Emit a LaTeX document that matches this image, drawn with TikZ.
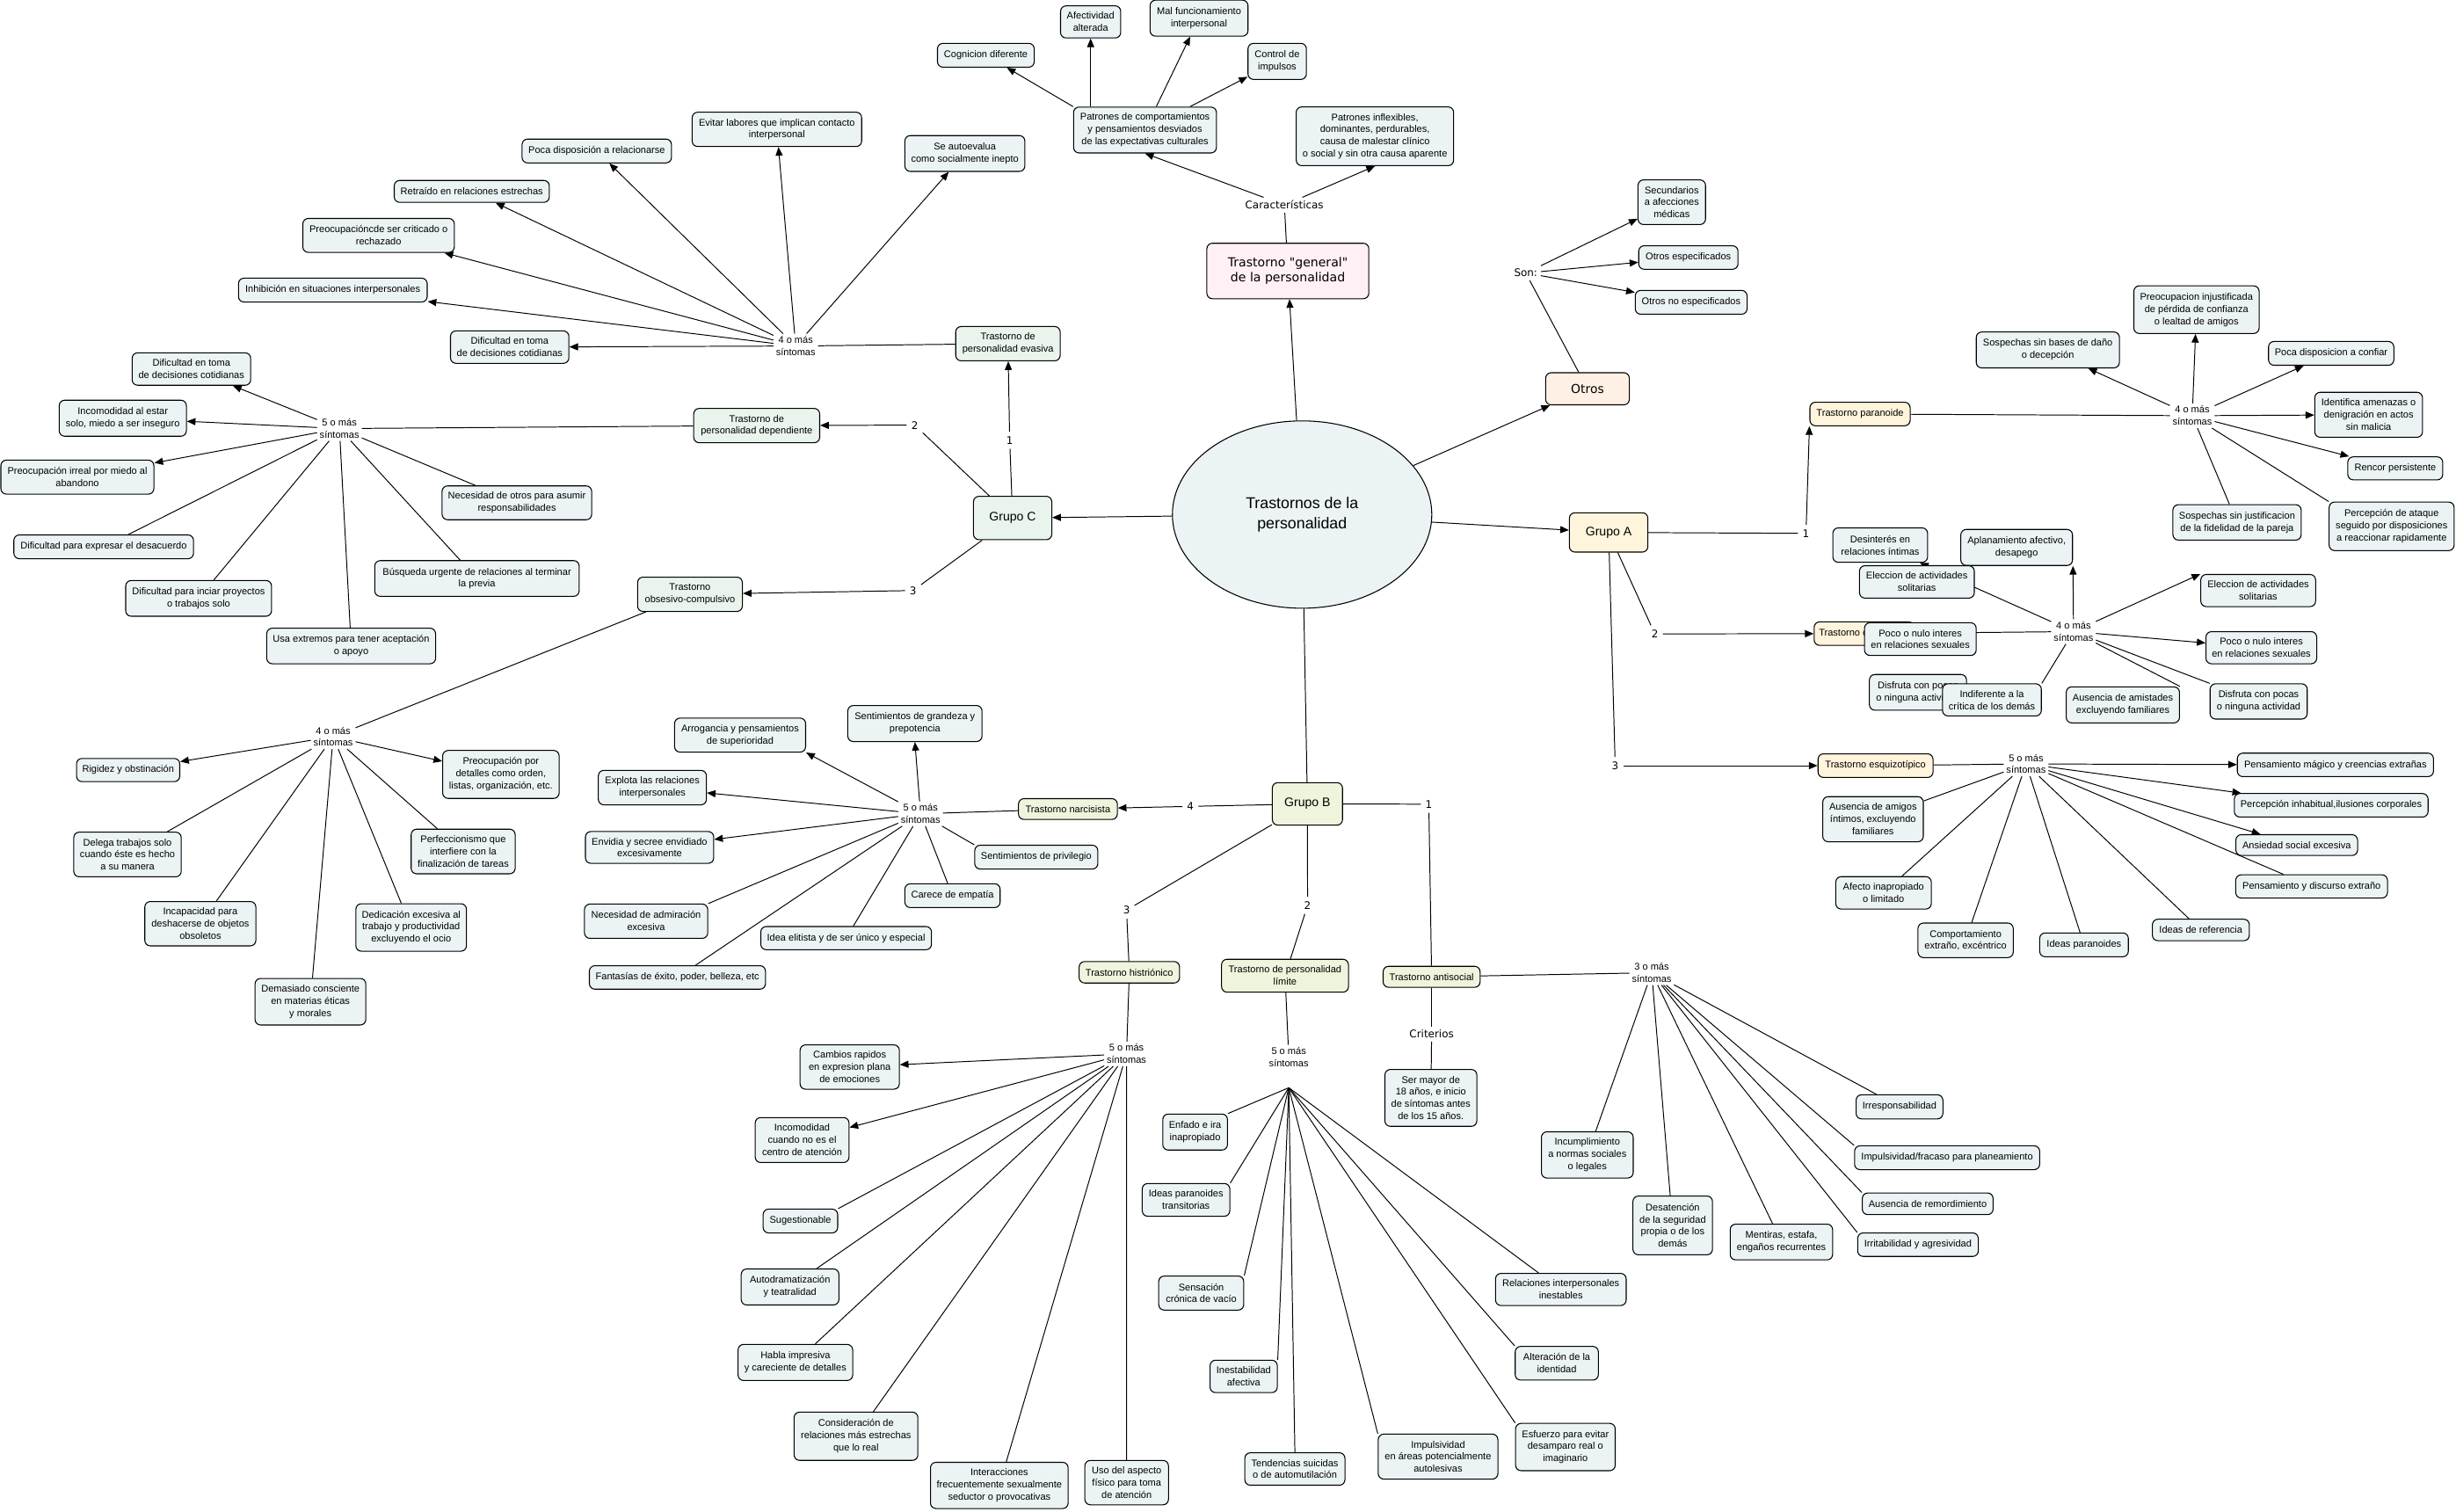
\documentclass[tikz,border=0pt]{standalone}
\usepackage{fontspec}
\setmainfont{Liberation Sans}
\newfontfamily\dvf{DejaVu Sans}
\usetikzlibrary{arrows.meta,shapes.geometric,calc}
\definecolor{symfill}{HTML}{EBF3F5}
\definecolor{cfill}{HTML}{E9F4EC}
\definecolor{bfill}{HTML}{EFF5DC}
\definecolor{afill}{HTML}{FFF4DC}
\definecolor{ofill}{HTML}{FEF0E4}
\definecolor{gfill}{HTML}{FFF0F6}
\pgfdeclarelayer{bg}
\pgfsetlayers{bg,main}
\tikzset{
 bx/.style={draw, line width=0.6pt, rounded corners=3.5pt, fill=symfill, align=center, inner sep=0.5pt, font=\fontsize{6.2}{7.8}\selectfont},
 sz/.style 2 args={minimum width=#1, minimum height=#2},
 grp/.style={bx, font=\fontsize{7.9}{9.5}\selectfont},
 lbl/.style={align=center, inner sep=1.5pt, font=\fontsize{6.2}{7.8}\selectfont},
 num/.style={inner sep=2.8pt, font=\dvf\fontsize{6.7}{8}\selectfont},
 ln/.style={line width=0.55pt},
 arr/.style={ln, -{Triangle[length=5.5pt,width=4.5pt]}},
}
\begin{document}
\begin{tikzpicture}[x=1pt,y=-1pt]
\useasboundingbox (0,0) rectangle (1568,965);
\begin{pgfonlayer}{bg}
\fill[white] (0,0) rectangle (1568,965);
\end{pgfonlayer}
% ---------- central ----------
\node[ellipse, draw, line width=0.6pt, fill=symfill, minimum width=165.6, minimum height=119.6, align=center, font=\fontsize{10}{13}\selectfont] (E) at (831.3,328.5) {Trastornos de la\\personalidad};
\node[bx, fill=gfill, sz={103.4}{35.4}, font=\dvf\fontsize{7.9}{9.5}\selectfont] (gen) at (822.2,173) {Trastorno "general"\\de la personalidad};
\node[bx, fill=ofill, sz={53.4}{20.5}, font=\dvf\fontsize{7.8}{9.5}\selectfont] (otros) at (1013.5,248.2) {Otros};
\node[grp, fill=afill, sz={50.1}{25.1}] (grA) at (1027,339.9) {Grupo A};
\node[grp, fill=bfill, sz={44.8}{27.1}] (grB) at (834.7,513.2) {Grupo B};
\node[grp, fill=cfill, sz={50}{27.7}] (grC) at (646.5,330.7) {Grupo C};
% ---------- caracteristicas ----------
\node[num, inner sep=2pt] (carac) at (820,130.9) {Características};
\node[bx, sz={91.2}{29.3}] (pat) at (731,83) {Patrones de comportamientos\\y pensamientos desviados\\de las expectativas culturales};
\node[bx, sz={100.5}{37.5}] (pinf) at (877.8,87) {Patrones inflexibles,\\dominantes, perdurables,\\causa de malestar clínico\\o social y sin otra causa aparente};
\node[bx, sz={61.8}{15.2}] (cog) at (629.4,35.3) {Cognicion diferente};
\node[bx, sz={38.4}{20.5}] (afe) at (696.3,14) {Afectividad\\alterada};
\node[bx, sz={62.5}{23}] (mal) at (765.5,11.6) {Mal funcionamiento\\interpersonal};
\node[bx, sz={37.3}{23}] (ctrl) at (815.4,39.2) {Control de\\impulsos};
% ---------- otros ----------
\node[num, inner sep=2pt] (son) at (974.1,174.3) {Son:};
\node[bx, sz={43.1}{28.5}] (sec) at (1067.3,129.1) {Secundarios\\a afecciones\\médicas};
\node[bx, sz={63.4}{15}] (oesp) at (1077.9,164.4) {Otros especificados};
\node[bx, sz={71.4}{15.2}] (onesp) at (1079.7,193) {Otros no especificados};
% ---------- grupo C ----------
\node[num] (n1c) at (644.6,281) {1};
\node[num] (n2c) at (584,271.4) {2};
\node[num] (n3c) at (582.9,377) {3};
\node[bx, fill=cfill, sz={66.7}{21.9}] (eva) at (643.5,219.4) {Trastorno de\\personalidad evasiva};
\node[bx, fill=cfill, sz={80.4}{21.9}] (dep) at (483.1,271.7) {Trastorno de\\personalidad dependiente};
\node[bx, fill=cfill, sz={66.9}{21.9}] (obs) at (440.5,379.4) {Trastorno\\obsesivo-compulsivo};
\node[lbl] (leva) at (508,220.9) {4 o más\\síntomas};
\node[lbl] (ldep) at (216.7,273.6) {5 o más\\síntomas};
\node[lbl] (lobs) at (212.7,470.3) {4 o más\\síntomas};
\node[bx, sz={95.4}{15.2}] (ev1) at (381,96.4) {Poca disposición a relacionarse};
\node[bx, sz={108.2}{21.9}] (ev2) at (496,82.6) {Evitar labores que implican contacto\\interpersonal};
\node[bx, sz={76.6}{22.9}] (ev3) at (616,98) {Se autoevalua\\como socialmente inepto};
\node[bx, sz={99}{14}] (ev4) at (301.2,122.2) {Retraído en relaciones estrechas};
\node[bx, sz={96.7}{21.7}] (ev5) at (241.7,150.3) {Preocupacióncde ser criticado o\\rechazado};
\node[bx, sz={120.5}{15.2}] (ev6) at (212.5,185.2) {Inhibición en situaciones interpersonales};
\node[bx, sz={75.6}{20.7}] (ev7) at (325.4,221.6) {Dificultad en toma\\de decisiones cotidianas};
\node[bx, sz={75.7}{20.7}] (dp1) at (122.2,235.6) {Dificultad en toma\\de decisiones cotidianas};
\node[bx, sz={81.2}{23}] (dp2) at (78.4,267) {Incomodidad al estar\\solo, miedo a ser inseguro};
\node[bx, sz={97.7}{21.7}] (dp3) at (49.4,304.6) {Preocupación irreal por miedo al\\abandono};
\node[bx, sz={114.7}{15.2}] (dp4) at (66.2,349.1) {Dificultad para expresar el desacuerdo};
\node[bx, sz={93.1}{22.8}] (dp5) at (126.8,382) {Dificultad para inciar proyectos\\o trabajos solo};
\node[bx, sz={107.8}{22.7}] (dp6) at (224.2,412.4) {Usa extremos para tener aceptación\\o apoyo};
\node[bx, sz={130.5}{22.8}] (dp7) at (304.5,369.3) {Búsqueda urgente de relaciones al terminar\\la previa};
\node[bx, sz={95.5}{21.6}] (dp8) at (330,321) {Necesidad de otros para asumir\\responsabilidades};
\node[bx, sz={65.9}{14.8}] (ob1) at (81.8,491.6) {Rigidez y obstinación};
\node[bx, sz={74.4}{30.6}] (ob2) at (319.8,494.4) {Preocupación por\\detalles como orden,\\listas, organización, etc.};
\node[bx, sz={68.6}{28.5}] (ob3) at (81.4,545.5) {Delega trabajos solo\\cuando éste es hecho\\a su manera};
\node[bx, sz={70.9}{28.3}] (ob4) at (127.9,589.7) {Incapacidad para\\deshacerse de objetos\\obsoletos};
\node[bx, sz={70.7}{29.7}] (ob5) at (198.2,639.5) {Demasiado consciente\\en materias éticas\\y morales};
\node[bx, sz={70.6}{30.3}] (ob6) at (262.5,592.1) {Dedicación excesiva al\\trabajo y productividad\\excluyendo el ocio};
\node[bx, sz={66.4}{28.5}] (ob7) at (295.7,543.6) {Perfeccionismo que\\interfiere con la\\finalización de tareas};
% ---------- grupo B ----------
\node[num] (n1b) at (912.2,513.4) {1};
\node[num] (n2b) at (834.8,578) {2};
\node[num] (n3b) at (719.2,581) {3};
\node[num] (n4b) at (760,514.8) {4};
\node[bx, fill=bfill, sz={63.1}{13.3}] (nar) at (681.8,516.5) {Trastorno narcisista};
\node[bx, fill=bfill, sz={64.1}{13.7}] (his) at (721,620.7) {Trastorno histriónico};
\node[bx, fill=bfill, sz={81}{21}] (lim) at (820.4,622.9) {Trastorno de personalidad\\límite};
\node[bx, fill=bfill, sz={61.9}{13.4}] (ant) at (914,623.6) {Trastorno antisocial};
\node[lbl] (lnar) at (587.7,519.5) {5 o más\\síntomas};
\node[lbl] (lhis) at (719.2,672.8) {5 o más\\síntomas};
\node[lbl] (llim) at (822.8,674.9) {5 o más\\síntomas};
\coordinate (llimc) at (822.8,694.4);
\node[lbl] (lant) at (1054.5,621) {3 o más\\síntomas};
\node[num, inner sep=2pt] (crit) at (914,660.1) {Criterios};
\node[bx, sz={83.7}{21.7}] (na1) at (472.5,469.3) {Arrogancia y pensamientos\\de superioridad};
\node[bx, sz={85.7}{23}] (na2) at (584.1,461.9) {Sentimientos de grandeza y\\prepotencia};
\node[bx, sz={69}{22}] (na3) at (416.5,502.8) {Explota las relaciones\\interpersonales};
\node[bx, sz={81.9}{20.3}] (na4) at (414.7,541) {Envidia y secree envidiado\\excesivamente};
\node[bx, sz={78.7}{21.9}] (na5) at (412.5,588.1) {Necesidad de admiración\\excesiva};
\node[bx, sz={112.4}{15}] (na6) at (432.5,624) {Fantasías de éxito, poder, belleza, etc};
\node[bx, sz={109}{14.8}] (na7) at (540.2,598.9) {Idea elitista y de ser único y especial};
\node[bx, sz={60.8}{15.2}] (na8) at (608.1,571.8) {Carece de empatía};
\node[bx, sz={78.6}{15.2}] (na9) at (661.6,547.2) {Sentimientos de privilegio};
\node[bx, sz={63.4}{28.3}] (hi1) at (542.5,681.2) {Cambios rapidos\\en expresion plana\\de emociones};
\node[bx, sz={59.9}{28.7}] (hi2) at (512.1,727.8) {Incomodidad\\cuando no es el\\centro de atención};
\node[bx, sz={47.6}{15.2}] (hi3) at (511,779.5) {Sugestionable};
\node[bx, sz={62.4}{23}] (hi4) at (504.4,821.6) {Autodramatización\\y teatralidad};
\node[bx, sz={73.2}{23}] (hi5) at (507.8,869.8) {Habla impresiva\\y careciente de detalles};
\node[bx, sz={79}{30.8}] (hi6) at (546.5,916.9) {Consideración de\\relaciones más estrechas\\que lo real};
\node[bx, sz={87.9}{29.5}] (hi7) at (638,948.3) {Interacciones\\frecuentemente sexualmente\\seductor o provocativas};
\node[bx, sz={53.4}{28.3}] (hi8) at (719.3,946.5) {Uso del aspecto\\físico para toma\\de atención};
\node[bx, sz={41.3}{23}] (li1) at (763,722.7) {Enfado e ira\\inapropiado};
\node[bx, sz={55.9}{20.9}] (li2) at (757.2,766) {Ideas paranoides\\transitorias};
\node[bx, sz={54.3}{21.7}] (li3) at (766.9,825.5) {Sensación\\crónica de vacío};
\node[bx, sz={42.9}{20.7}] (li4) at (794,878.7) {Inestabilidad\\afectiva};
\node[bx, sz={63.9}{20.7}] (li5) at (826.7,937.8) {Tendencias suicidas\\o de automutilación};
\node[bx, sz={76.4}{28.7}] (li6) at (918.1,929.9) {Impulsividad\\en áreas potencialmente\\autolesivas};
\node[bx, sz={63.6}{30.2}] (li7) at (999.4,923.8) {Esfuerzo para evitar\\desamparo real o\\imaginario};
\node[bx, sz={53.1}{21.5}] (li8) at (993.9,870.3) {Alteración de la\\identidad};
\node[bx, sz={83.4}{20.5}] (li9) at (996.5,823.2) {Relaciones interpersonales\\inestables};
\node[bx, sz={58.7}{36.3}] (an0) at (913.5,700.9) {Ser mayor de\\18 años, e inicio\\de síntomas antes\\de los 15 años.};
\node[bx, sz={58.6}{29.5}] (an1) at (1013.4,737.3) {Incumplimiento\\a normas sociales\\o legales};
\node[bx, sz={50.8}{37.5}] (an2) at (1067.9,782.3) {Desatención\\de la seguridad\\propia o de los\\demás};
\node[bx, sz={65.4}{22.8}] (an3) at (1137.3,792.9) {Mentiras, estafa,\\engaños recurrentes};
\node[bx, sz={55.4}{15.4}] (an4) at (1212.7,706.6) {Irresponsabilidad};
\node[bx, sz={118.2}{15.2}] (an5) at (1243.1,739.1) {Impulsividad/fracaso para planeamiento};
\node[bx, sz={83.5}{13.8}] (an6) at (1230.7,768.5) {Ausencia de remordimiento};
\node[bx, sz={77}{15}] (an7) at (1224.5,794.6) {Irritabilidad y agresividad};
% ---------- grupo A ----------
\node[num] (n1a) at (1153,340.5) {1};
\node[num] (n2a) at (1056.5,404.7) {2};
\node[num] (n3a) at (1031.2,488.8) {3};
\node[bx, fill=afill, sz={64}{15}] (par) at (1187.5,264.3) {Trastorno paranoide};
\node[bx, fill=afill, sz={73.4}{15.1}] (etp) at (1197.4,488.8) {Trastorno esquizotípico};
\node[lbl] (lpar) at (1399.6,265.4) {4 o más\\síntomas};
\node[lbl] (lesq) at (1323.8,403.2) {4 o más\\síntomas};
\node[lbl] (letp) at (1293.5,487.7) {5 o más\\síntomas};
\node[bx, sz={91.4}{22.9}] (pa1) at (1307.4,223.4) {Sospechas sin bases de daño\\o decepción};
\node[bx, sz={80}{30.4}] (pa2) at (1402.3,197.7) {Preocupacion injustificada\\de pérdida de confianza\\o lealtad de amigos};
\node[bx, sz={80}{15.2}] (pa3) at (1488.3,225.6) {Poca disposicion a confiar};
\node[bx, sz={68.8}{28.7}] (pa4) at (1512.2,264.8) {Identifica amenazas o\\denigración en actos\\sin malicia};
\node[bx, sz={60.6}{14.7}] (pa5) at (1529.2,299) {Rencor persistente};
\node[bx, sz={81.9}{22.6}] (pa6) at (1428.2,333.5) {Sospechas sin justificacion\\de la fidelidad de la pareja};
\node[bx, sz={79.8}{31}] (pa7) at (1526.9,336) {Percepción de ataque\\seguido por disposiciones\\a reaccionar rapidamente};
\node[bx, sz={60.5}{22}] (ez1) at (1200.4,348) {Desinterés en\\relaciones íntimas};
\node[bx, sz={71.3}{23}] (ez2) at (1287.5,349.5) {Aplanamiento afectivo,\\desapego};
\node[bx, sz={73.3}{20.7}] (ez3) at (1223.8,371.5) {Eleccion de actividades\\solitarias};
\node[bx, fill=afill, sz={63.8}{15}] (esq) at (1190.1,404.5) {Trastorno esquizoide};
\node[bx, sz={71.3}{20.9}] (ez4) at (1226,408) {Poco o nulo interes\\en relaciones sexuales};
\node[bx, sz={62}{22.8}] (ez5) at (1224.5,442) {Disfruta con pocas\\o ninguna actividad};
\node[bx, sz={63.1}{20.5}] (ez6) at (1271.7,446.8) {Indiferente a la\\crítica de los demás};
\node[bx, sz={72.3}{23}] (ez7) at (1355.3,450) {Ausencia de amistades\\excluyendo familiares};
\node[bx, sz={73.3}{20.5}] (ez8) at (1441.7,377) {Eleccion de actividades\\solitarias};
\node[bx, sz={70.7}{20.5}] (ez9) at (1443.7,413.5) {Poco o nulo interes\\en relaciones sexuales};
\node[bx, sz={62}{22.5}] (ez10) at (1442,447.8) {Disfruta con pocas\\o ninguna actividad};
\node[bx, sz={125.2}{15}] (et1) at (1491,488.3) {Pensamiento mágico y creencias extrañas};
\node[bx, sz={123.7}{15}] (et2) at (1488.3,514.1) {Percepción inhabitual,ilusiones corporales};
\node[bx, sz={77.7}{13.3}] (et3) at (1466.3,539.5) {Ansiedad social excesiva};
\node[bx, sz={96.9}{14.8}] (et4) at (1475.8,565.9) {Pensamiento y discurso extraño};
\node[bx, sz={61.9}{13.7}] (et5) at (1405.1,593.7) {Ideas de referencia};
\node[bx, sz={56.6}{15.2}] (et6) at (1330.5,603.2) {Ideas paranoides};
\node[bx, sz={60.8}{22.1}] (et7) at (1254.9,600.3) {Comportamiento\\extraño, excéntrico};
\node[bx, sz={61}{20.7}] (et8) at (1202.5,570) {Afecto inapropiado\\o limitado};
\node[bx, sz={64.2}{28.8}] (et9) at (1195.8,523) {Ausencia de amigos\\íntimos, excluyendo\\familiares};
% ---------- connectors ----------
\begin{pgfonlayer}{bg}
\draw[arr] (E) -- (gen);
\draw[arr] (E) -- (otros);
\draw[arr] (E) -- (grA);
\draw[arr] (E) -- (grC);
\draw[ln] (E) -- (grB);
\draw[ln] (gen) -- (carac);
\draw[arr] (carac) -- (pat.south);
\draw[arr] (carac) -- (pinf.south);
\draw[arr] (pat.north west) -- (cog);
\draw[arr] (afe.south |- pat.north) -- (afe.south);
\draw[arr] (pat) -- (mal);
\draw[arr] (pat) -- (ctrl);
\draw[ln] (otros) -- (son);
\draw[arr] (son) -- (sec);
\draw[arr] (son) -- (oesp);
\draw[arr] (son) -- (onesp);
% grupo C
\draw[ln] (grC) -- (n1c);
\draw[arr] (n1c) -- (eva);
\draw[ln] (grC) -- (n2c);
\draw[arr] (n2c) -- (dep);
\draw[ln] (grC) -- (n3c);
\draw[arr] (n3c) -- (obs);
\draw[ln] (eva) -- (leva);
\foreach \t in {ev1,ev2,ev3,ev4,ev5,ev6,ev7} \draw[arr] (leva) -- (\t);
\draw[ln] (dep) -- (ldep);
\foreach \t in {dp1,dp2,dp3} \draw[arr] (ldep) -- (\t);
\foreach \t in {dp4,dp5,dp6,dp7,dp8} \draw[ln] (ldep) -- (\t);
\draw[ln] (obs) -- (lobs);
\foreach \t in {ob1,ob2} \draw[arr] (lobs) -- (\t);
\foreach \t in {ob3,ob4,ob5,ob6,ob7} \draw[ln] (lobs) -- (\t);
% grupo B
\draw[ln] (grB) -- (n1b);
\draw[ln] (n1b) -- (ant);
\draw[ln] (grB) -- (n2b);
\draw[ln] (n2b) -- (lim);
\draw[ln] (grB) -- (n3b);
\draw[ln] (n3b) -- (his);
\draw[ln] (grB) -- (n4b);
\draw[arr] (n4b) -- (nar);
\draw[ln] (nar) -- (lnar);
\draw[arr] (lnar) -- (na1.south east);
\draw[arr] (lnar) -- (na2.south);
\draw[arr] (lnar) -- (na3);
\draw[arr] (lnar) -- (na4);
\draw[ln] (lnar) -- (na5.north east);
\draw[ln] (lnar) -- (na6);
\draw[ln] (lnar) -- (na7);
\draw[ln] (lnar) -- (na8);
\draw[ln] (lnar) -- (na9.north west);
\draw[ln] (his) -- (lhis);
\draw[arr] (lhis) -- (hi1);
\draw[arr] (lhis) -- (hi2);
\draw[ln] (lhis) -- (hi3.north east);
\foreach \t in {hi4,hi5,hi6,hi7} \draw[ln] (lhis) -- (\t);
\draw[ln] (lhis) -- (hi8.north);
\draw[ln] (lim) -- (llim);
\foreach \t in {li1,li2,li3,li4} \draw[ln] (llimc) -- (\t.north east);
\draw[ln] (llimc) -- (li5.north);
\foreach \t in {li6,li7,li8} \draw[ln] (llimc) -- (\t.north west);
\draw[ln] (llimc) -- (li9);
\draw[ln] (ant) -- (crit);
\draw[ln] (crit) -- (an0);
\draw[ln] (ant) -- (lant);
\foreach \t in {an1,an2,an3,an4} \draw[ln] (lant) -- (\t);
\foreach \t in {an5,an6,an7} \draw[ln] (lant) -- (\t.north west);
% grupo A
\draw[ln] (grA) -- (n1a);
\draw[arr] (n1a) -- (par.south west);
\draw[ln] (grA) -- (n2a);
\draw[arr] (n2a) -- (esq);
\draw[ln] (grA) -- (n3a);
\draw[arr] (n3a) -- (etp);
\draw[ln] (par) -- (lpar);
\foreach \t in {pa1,pa2,pa3,pa4,pa5} \draw[arr] (lpar) -- (\t);
\draw[ln] (lpar) -- (pa6);
\draw[ln] (lpar) -- (pa7.north west);
\draw[ln] (esq) -- (lesq);
\draw[arr] (lesq) -- (ez1);
\draw[arr] (lesq) -- (ez2.south east);
\draw[arr] (lesq) -- (ez8.north west);
\draw[arr] (lesq) -- (ez9);
\draw[ln] (lesq) -- (ez6.north east);
\draw[ln] (lesq) -- (ez7.north east);
\draw[ln] (lesq) -- (ez10.north west);
\draw[ln] (etp) -- (letp);
\foreach \t in {et1,et2,et3} \draw[arr] (letp) -- (\t);
\foreach \t in {et4,et5,et6,et7,et8,et9} \draw[ln] (letp) -- (\t);
\end{pgfonlayer}
\end{tikzpicture}
\end{document}
